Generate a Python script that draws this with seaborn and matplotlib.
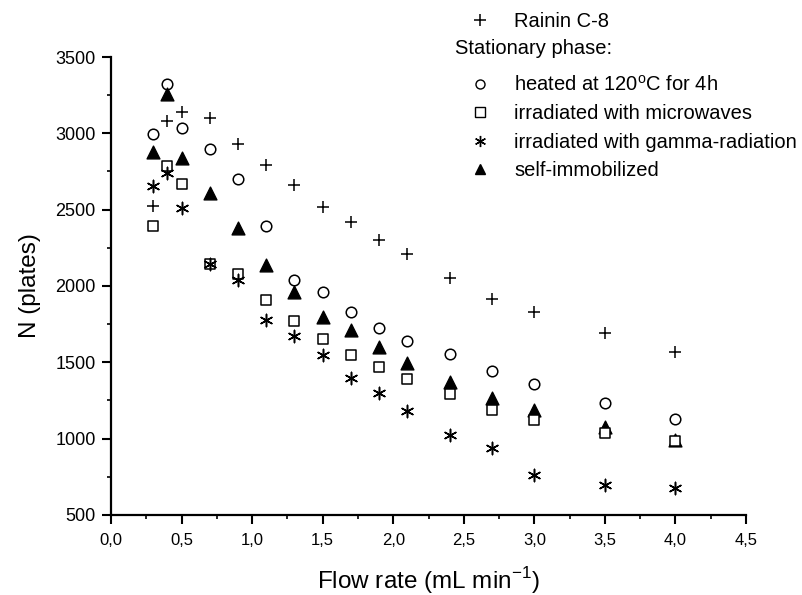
import numpy as np
import pandas as pd
import matplotlib
matplotlib.use("Agg")
import matplotlib.pyplot as plt
from matplotlib.lines import Line2D
from matplotlib.ticker import MultipleLocator, FuncFormatter
import seaborn as sns

# flow rates (mL/min)
flow = [0.3, 0.4, 0.5, 0.7, 0.9, 1.1, 1.3, 1.5, 1.7, 1.9, 2.1, 2.4, 2.7, 3.0, 3.5, 4.0]

# plate numbers
rainin = [2526, 3080, 3137, 3102, 2930, 2790, 2659, 2519, 2417, 2301, 2207, 2050, 1915, 1827, 1694, 1569]
heated = [2993, 3320, 3036, 2895, 2700, 2395, 2040, 1960, 1830, 1723, 1641, 1554, 1445, 1356, 1231, 1131]
microwave = [2395, 2786, 2668, 2142, 2076, 1910, 1770, 1650, 1550, 1467, 1389, 1290, 1188, 1122, 1039, 985]
gamma = [2655, 2742, 2508, 2142, 2039, 1775, 1670, 1550, 1400, 1301, 1183, 1024, 941, 762, 696, 675]
selfimm = [2879, 3255, 2840, 2607, 2381, 2135, 1960, 1800, 1710, 1598, 1497, 1369, 1264, 1188, 1078, 990]

labels = ["Rainin C-8", "heated at 120$^{\\mathregular{o}}$C for 4h", "irradiated with microwaves",
          "irradiated with gamma-radiation", "self-immobilized"]

df = pd.DataFrame({"flow": flow, "rainin": rainin, "heated": heated,
                   "microwave": microwave, "gamma": gamma, "selfimm": selfimm})

sns.set_style("ticks")
plt.rcParams["font.family"] = ["Liberation Sans", "DejaVu Sans"]
plt.rcParams["mathtext.fontset"] = "custom"
plt.rcParams["mathtext.rm"] = "Liberation Sans"
for k in ["text.color", "axes.labelcolor", "xtick.color", "ytick.color", "axes.edgecolor"]:
    plt.rcParams[k] = "black"

fig = plt.figure(figsize=(8.02, 5.95), dpi=100)
ax = fig.add_axes([0.1384, 0.1345, 0.7918, 0.7697])

asterisk = (6, 2, 0)

sns.scatterplot(data=df, x="flow", y="rainin", marker="+", s=78, color="black", linewidth=1.1, ax=ax)
sns.scatterplot(data=df, x="flow", y="heated", marker="o", s=58, color="white", edgecolor="black", linewidth=1.1, ax=ax)
sns.scatterplot(data=df, x="flow", y="selfimm", marker="^", s=85, color="black", edgecolor="black", linewidth=1.0, ax=ax)
sns.scatterplot(data=df, x="flow", y="microwave", marker="s", s=52, color="white", edgecolor="black", linewidth=1.1, ax=ax)
sns.scatterplot(data=df, x="flow", y="gamma", marker=asterisk, s=78, color="black", linewidth=1.1, ax=ax)

ax.set_xlim(0, 4.5)
ax.set_ylim(500, 3500)
ax.xaxis.set_major_locator(MultipleLocator(0.5))
ax.xaxis.set_minor_locator(MultipleLocator(0.25))
ax.yaxis.set_major_locator(MultipleLocator(500))
ax.yaxis.set_minor_locator(MultipleLocator(250))
ax.xaxis.set_major_formatter(FuncFormatter(lambda v, p: f"{v:.1f}".replace(".", ",")))

sns.despine(ax=ax)
for s in ["left", "bottom"]:
    ax.spines[s].set_linewidth(1.6)
ax.tick_params(which="major", direction="out", length=6.5, width=1.5)
ax.tick_params(which="minor", direction="out", length=3, width=1.2)
ax.tick_params(axis="x", which="major", labelsize=12, pad=6.5)
ax.tick_params(axis="y", which="major", labelsize=13, pad=4.5)

ax.set_xlabel("Flow rate (mL min$^{\\mathregular{-1}}$)", fontsize=17.5, labelpad=12)
ax.set_ylabel("N (plates)", fontsize=17.5, labelpad=10)

# legend
h1 = [Line2D([], [], marker="+", color="black", ls="none", markersize=9, mew=1.1)]
leg1 = fig.legend(h1, [labels[0]], loc="upper left", bbox_to_anchor=(0.5636, 1.0076),
                  frameon=False, fontsize=14.5, handlelength=1.2, handletextpad=1.1, borderpad=0.3)
fig.text(0.567, 0.918, "Stationary phase:", fontsize=14.5, va="center", ha="left")
h2 = [Line2D([], [], marker="o", color="black", mfc="white", ls="none", markersize=6.5, mew=1.0),
      Line2D([], [], marker="s", color="black", mfc="white", ls="none", markersize=6.5, mew=1.0),
      Line2D([], [], marker=asterisk, color="black", ls="none", markersize=8, mew=1.0),
      Line2D([], [], marker="^", color="black", ls="none", markersize=7.5)]
leg2 = fig.legend(h2, labels[1:], loc="upper left", bbox_to_anchor=(0.5636, 0.9008),
                  frameon=False, fontsize=14.5, handlelength=1.2, handletextpad=1.1,
                  labelspacing=0.46, borderpad=0.3)

fig.savefig("out.png", dpi=100)
